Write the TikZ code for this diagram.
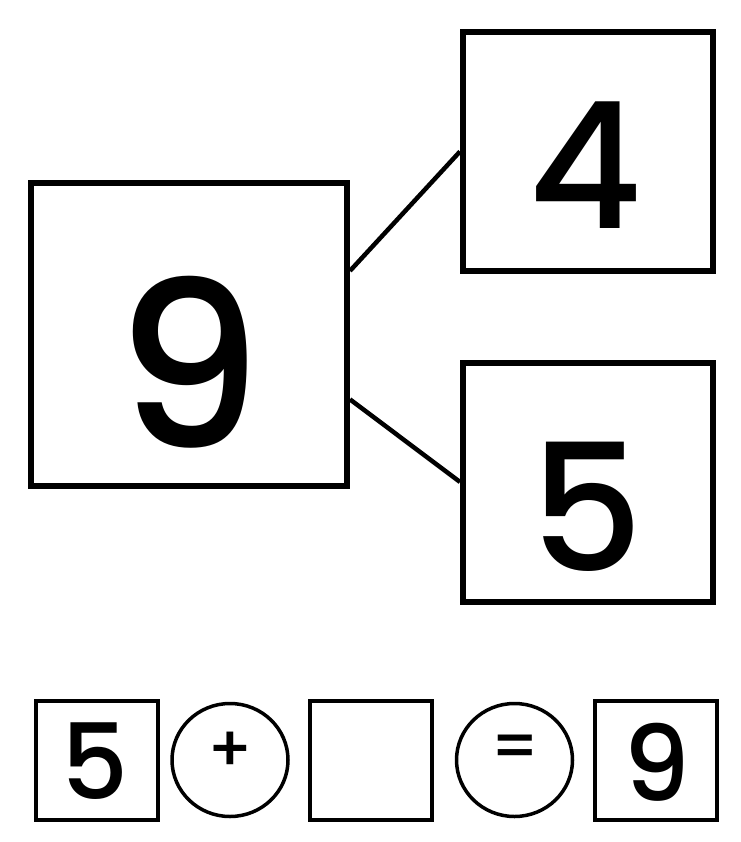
\documentclass[tikz,border=0pt]{standalone}
\usepackage{fontspec}
\setmainfont{Poppins}
\newfontfamily\digitfont{Poppins Medium}
\usetikzlibrary{shapes.geometric,calc}
\tikzset{
  numbox/.style={draw, line width=6pt, rectangle, inner sep=0pt},
  smallbox/.style={draw, line width=4.5pt, rectangle, inner sep=0pt, minimum width=122pt, minimum height=119pt},
  opcircle/.style={draw, line width=3.5pt, ellipse, inner sep=0pt, minimum width=116pt, minimum height=113pt},
  link/.style={line width=4.5pt},
  digit/.style={inner sep=0pt, font=\fontsize{#1}{#1}\digitfont},
}
\begin{document}
\begin{tikzpicture}[x=1pt,y=-1pt]
\useasboundingbox (0,0) rectangle (740,842);
% top part
\node[numbox, minimum width=316pt, minimum height=303pt] (big) at (189,334.5) {};
\node[numbox, minimum width=250pt, minimum height=239pt] (four) at (588,151.5) {};
\node[numbox, minimum width=250pt, minimum height=239pt] (five) at (588,482) {};
\node[digit=231] (t9) at (189,362) {9};
\node[digit=176] (t4) at (585,165) {4};
\node[digit=177] (t5) at (587,507) {5};
\coordinate (bu) at ($(big.north east)!0.294!(big.south east)$);
\coordinate (bd) at ($(big.north east)!0.71!(big.south east)$);
\draw[link] (bu) -- (four.west);
\draw[link] (bd) -- (five.west);
% bottom equation
\node[smallbox] (b1) at (97,760.5) {};
\node[opcircle] (c1) at (230,760) {};
\node[smallbox] (b2) at (371,760.5) {};
\node[opcircle] (c2) at (514.5,760) {};
\node[smallbox] (b3) at (656,760.5) {};
\node[digit=105] (s5) at (95,761) {5};
\node[digit=105] (s9) at (657,762) {9};
\node[digit=64] (plus) at (230,752) {+};
\node[digit=64] (eq) at (515,752) {=};
\end{tikzpicture}
\end{document}
